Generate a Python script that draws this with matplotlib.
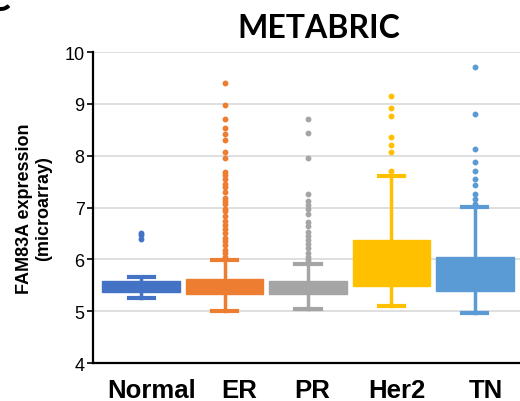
import matplotlib.pyplot as plt

plt.rcParams['font.family'] = ['Liberation Sans', 'DejaVu Sans']

groups = ["Normal", "ER", "PR", "Her2", "TN"]
colors = ["#4472C4", "#ED7D31", "#A5A5A5", "#FFC000", "#5B9BD5"]

q1 = [5.37, 5.33, 5.33, 5.48, 5.38]
med = [5.46, 5.45, 5.45, 5.74, 5.53]
q3 = [5.58, 5.62, 5.59, 6.38, 6.05]
whis_lo = [5.26, 5.00, 5.04, 5.10, 4.96]
whis_hi = [5.66, 5.99, 5.92, 7.60, 7.01]

normal_out = [6.51, 6.47, 6.40]
er_out = [9.40, 8.97, 8.70, 8.53, 8.42, 8.30, 8.07, 7.96, 7.69, 7.62, 7.56,
          7.46, 7.40, 7.30, 7.19, 7.12, 7.06, 6.98, 6.93, 6.84, 6.74, 6.66,
          6.58, 6.50, 6.42, 6.35, 6.28, 6.19, 6.12, 6.05]
pr_out = [8.70, 8.44, 7.96, 7.26, 7.13, 7.04, 6.97, 6.87, 6.73, 6.65, 6.53,
          6.46, 6.37, 6.30, 6.21, 6.13, 6.05, 5.99]
her2_out = [9.15, 8.92, 8.76, 8.37, 8.21, 8.07, 7.71]
tn_out = [9.71, 8.81, 8.13, 7.87, 7.71, 7.56, 7.44, 7.27, 7.17, 7.06]
outliers = [normal_out, er_out, pr_out, her2_out, tn_out]

# category labels sit a little right of the boxes in the original
label_shift = [0.13, 0.17, 0.05, 0.06, 0.13]

fig = plt.figure(figsize=(5.2, 4.02), dpi=100)
ax = fig.add_axes([0.179, 0.0945, 0.821, 0.7735])

for i in range(len(groups)):
    c = colors[i]
    stats = [dict(med=med[i], q1=q1[i], q3=q3[i], whislo=whis_lo[i],
                  whishi=whis_hi[i], fliers=outliers[i])]
    ax.bxp(stats, positions=[i], widths=0.93, patch_artist=True,
           boxprops=dict(facecolor=c, edgecolor=c, linewidth=1),
           medianprops=dict(color=c, linewidth=1),
           whiskerprops=dict(color=c, linewidth=2.5),
           capprops=dict(color=c, linewidth=3),
           capwidths=0.3,
           flierprops=dict(marker='o', markersize=3.2, markerfacecolor=c,
                           markeredgecolor=c),
           manage_ticks=False,
           zorder=3)

ax.set_xlim(-0.575, 4.54)
ax.set_ylim(4, 10)
ax.set_yticks(range(4, 11))
ax.tick_params(axis='y', labelsize=13, length=4, width=1.2, pad=2)
ax.set_xticks([i + s for i, s in enumerate(label_shift)])
ax.set_xticklabels(groups, fontsize=18.5, fontweight='bold')
ax.tick_params(axis='x', length=0, pad=11)
ax.grid(axis='y', color='#d9d9d9', linewidth=1.2, zorder=0)
ax.set_axisbelow(True)
for s in ['top', 'right']:
    ax.spines[s].set_visible(False)
ax.spines['left'].set_linewidth(1.6)
ax.spines['bottom'].set_linewidth(1.6)

ax.set_ylabel("FAM83A expression\n(microarray)", fontsize=13,
              fontweight='bold', labelpad=9)

fig.text(0.613, 0.928, "METABRIC", ha='center', va='center', fontsize=23,
         fontweight='bold', family=['Lato', 'DejaVu Sans'])
fig.text(-0.03, 1.045, "C", ha='left', va='top', fontsize=28,
         fontweight='bold', family=['Lato', 'DejaVu Sans'])

fig.savefig("out.png", dpi=100)
